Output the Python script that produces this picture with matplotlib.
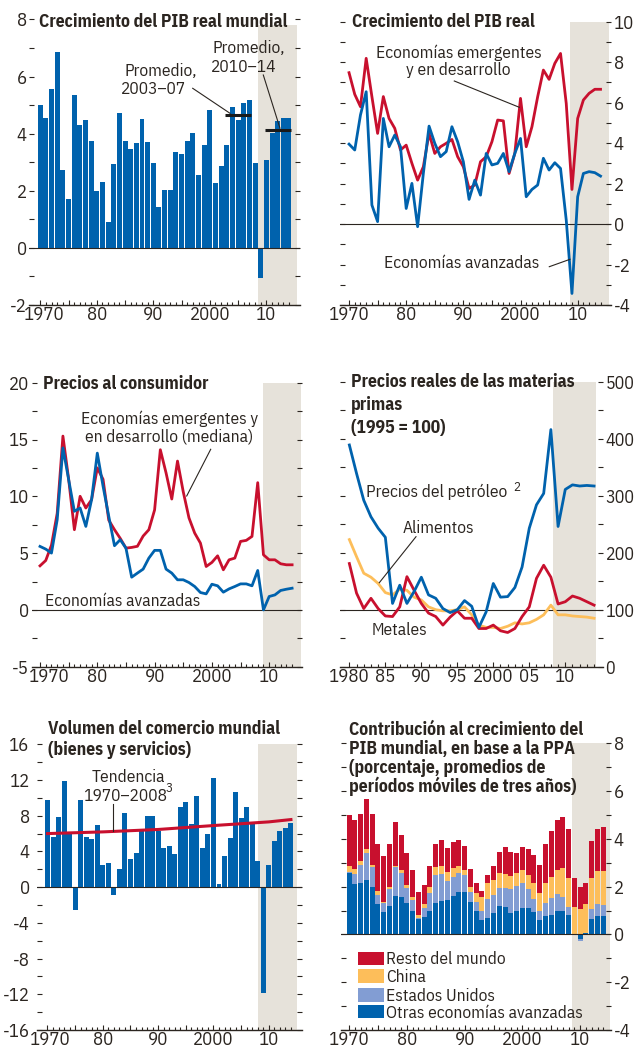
import numpy as np
import matplotlib.pyplot as plt
from matplotlib.lines import Line2D
from matplotlib.patches import Rectangle
from matplotlib.ticker import FixedLocator, FixedFormatter, MultipleLocator
from matplotlib.transforms import ScaledTranslation

plt.rcParams['font.family'] = ['IBM Plex Sans Condensed', 'DejaVu Sans']
plt.rcParams['axes.unicode_minus'] = False

W, H = 636, 1049
INK = '#2B2520'
BLUE = '#0062AD'
RED = '#C8102E'
ORANGE = '#FDBE5A'
LBLUE = '#829DD3'
SHADE = '#E6E2DA'

anios = np.arange(1970, 2015)
anios_mp = np.arange(1980, 2015)

pib_mundial = [5.0, 4.55, 5.56, 6.85, 2.73, 1.72, 5.37, 4.29, 4.48, 3.73,
               1.99, 2.30, 0.92, 2.94, 4.71, 3.73, 3.47, 3.66, 4.51, 3.71,
               2.97, 1.44, 2.03, 2.03, 3.36, 3.28, 3.73, 4.02, 2.56, 3.59,
               4.83, 2.28, 2.87, 3.59, 4.93, 4.48, 5.07, 5.17, 2.97, -1.05,
               3.08, 4.01, 4.44, 4.55, 4.55]

pib_emergentes = [7.48, 6.41, 5.8, 8.19, 6.3, 4.48, 6.3, 5.22, 4.73, 3.66,
                  3.9, 3.0, 2.17, 2.83, 4.48, 3.49, 3.82, 3.99, 4.18, 3.33,
                  2.83, 1.76, 1.93, 3.08, 3.33, 4.07, 5.14, 5.1, 2.5, 3.49,
                  6.21, 3.82, 4.81, 6.29, 7.61, 7.15, 7.94, 8.43, 5.96, 1.71,
                  5.22, 6.13, 6.46, 6.66, 6.66]
pib_avanzadas = [3.95, 3.66, 5.39, 6.54, 0.94, 0.12, 5.22, 3.82, 4.4, 3.82,
                 0.77, 2.01, -0.13, 2.5, 4.84, 3.99, 3.33, 3.58, 4.81, 4.07,
                 3.08, 1.22, 2.17, 1.43, 3.49, 2.92, 3.0, 3.49, 2.59, 3.49,
                 4.23, 1.35, 1.71, 1.93, 3.25, 2.67, 3.03, 2.75, 0.2, -3.43,
                 1.35, 2.5, 2.59, 2.54, 2.37]

ipc_emergentes = [3.88, 4.35, 5.7, 8.5, 15.3, 11.5, 7.06, 10.0, 8.97, 9.7,
                  12.5, 11.5, 7.9, 7.06, 6.3, 5.44, 5.5, 5.6, 6.5, 7.06,
                  8.8, 14.1, 12.06, 9.76, 13.1, 10.4, 8.1, 6.76, 5.88, 3.82,
                  4.18, 4.76, 3.53, 4.41, 4.56, 6.03, 6.12, 6.47, 11.2, 4.85,
                  4.41, 4.41, 4.06, 3.97, 3.97]
ipc_avanzadas = [5.59, 5.35, 5.0, 7.94, 14.26, 11.47, 8.68, 8.97, 7.35, 9.7,
                 13.8, 10.9, 8.24, 5.65, 6.18, 5.44, 2.88, 3.24, 3.59, 4.56,
                 5.24, 5.24, 3.59, 3.24, 2.65, 2.65, 2.41, 2.06, 1.53, 1.41,
                 2.26, 2.12, 1.56, 1.85, 2.06, 2.29, 2.29, 2.12, 3.47, 0.0,
                 1.18, 1.32, 1.71, 1.82, 1.91]

petroleo = [389, 339, 292, 263, 243, 227, 111, 143, 111, 132,
            157, 126, 120, 102, 95, 100, 116, 106, 69, 96,
            146, 122, 123, 139, 175, 243, 284, 304, 416, 246,
            311, 319, 317, 318, 317]
alimentos = [223, 193, 164, 157, 146, 130, 126, 136, 134, 122,
             117, 105, 100, 98, 98, 100, 105, 91, 73, 69,
             69, 67, 71, 77, 75, 77, 83, 91, 108, 91,
             91, 89, 88, 87, 85]
metales = [181, 129, 102, 120, 102, 89, 88, 105, 158, 134,
           111, 94, 88, 73, 87, 98, 85, 85, 67, 67,
           73, 63, 60, 67, 88, 105, 155, 178, 157, 110,
           114, 124, 120, 114, 108]

comercio = [9.81, 5.6, 7.84, 11.87, 5.97, -2.57, 9.81, 5.6, 5.34, 7.01,
            2.43, 2.65, -0.93, 1.98, 8.36, 3.1, 3.88, 6.27, 8.02, 8.02,
            6.34, 4.44, 4.66, 3.66, 9.03, 9.59, 7.09, 10.26, 4.44, 6.0,
            12.28, 0.3, 3.54, 5.45, 10.7, 7.8, 9.03, 7.35, 2.98, -11.87,
            2.43, 5.22, 6.34, 6.68, 7.24]
tendencia_anios = [1970, 1980, 1990, 2000, 2010, 2014]
tendencia = [6.0, 6.19, 6.46, 6.9, 7.31, 7.57]

otras_avanzadas = [2.57, 2.10, 2.14, 2.27, 1.97, 1.26, 0.92, 1.17, 1.59, 1.55,
                   1.30, 1.00, 0.63, 0.71, 0.97, 1.30, 1.38, 1.43, 1.59, 1.76,
                   1.76, 1.34, 1.00, 0.59, 0.67, 0.88, 1.17, 1.13, 0.88, 0.97,
                   1.09, 1.09, 0.92, 0.59, 0.76, 0.80, 1.00, 1.00, 0.80, 0.00,
                   -0.21, 0.06, 0.63, 0.76, 0.76]
estados_unidos = [0.06, 0.42, 0.76, 1.13, 0.84, 0.38, 0.38, 0.72, 1.22, 1.01,
                  0.63, 0.43, 0.05, 0.38, 0.75, 1.18, 1.14, 0.79, 0.80, 0.80,
                  0.72, 0.42, 0.34, 0.41, 0.80, 0.76, 0.76, 0.80, 1.01, 1.04,
                  1.05, 0.80, 0.55, 0.38, 0.54, 0.71, 0.68, 0.55, 0.33, 0.00,
                  -0.07, 0.02, 0.42, 0.50, 0.46]
china = [0.22, 0.21, 0.16, 0.17, 0.09, 0.16, 0.04, 0.08, 0.04, 0.13,
         0.13, 0.12, 0.12, 0.17, 0.25, 0.33, 0.33, 0.38, 0.38, 0.29,
         0.21, 0.21, 0.38, 0.55, 0.67, 0.63, 0.63, 0.59, 0.54, 0.55,
         0.55, 0.59, 0.67, 0.75, 0.84, 0.88, 1.01, 1.22, 1.22, 1.13,
         1.05, 1.18, 1.30, 1.38, 1.42]
resto_mundo = [2.14, 2.05, 1.97, 2.09, 2.13, 1.98, 1.93, 1.81, 1.85, 1.46,
               1.34, 1.14, 0.96, 0.80, 0.88, 0.97, 1.09, 1.01, 1.09, 1.09,
               1.00, 0.76, 0.42, 0.25, 0.34, 0.58, 0.88, 1.13, 1.01, 0.84,
               0.96, 1.09, 1.17, 1.18, 1.64, 1.93, 2.09, 2.14, 2.06, 1.22,
               0.92, 0.88, 1.55, 1.77, 1.85]

fig = plt.figure(figsize=(W / 100, H / 100), dpi=100)
TSIZE = 12.7


def panel(x0, y0, x1, y1):
    # posiciones en pixeles de la figura, desde arriba
    return fig.add_axes([x0 / W, 1 - y1 / H, (x1 - x0) / W, (y1 - y0) / H])


def txt(x, y, s, size=12.5, **kw):
    kw.setdefault('color', INK)
    kw.setdefault('va', 'baseline')
    fig.text(x / W, 1 - y / H, s, size=size, **kw)


def leader(x0, y0, x1, y1):
    fig.add_artist(Line2D([x0 / W, x1 / W], [1 - y0 / H, 1 - y1 / H],
                          lw=0.8, color=INK))


def lab(y, first, step):
    if (y - first) % step:
        return ''
    if y == first or y == 2000:
        return str(y)
    return '%02d' % (y % 100)


def style(ax, xlim, ylim, first, step, major_y, minor_y, side, ypad=2,
          ysize=13.5, nudge=0):
    ax.set_xlim(*xlim)
    ax.set_ylim(*ylim)
    ax.set_facecolor('none')
    for s in ('top', 'left', 'right'):
        ax.spines[s].set_visible(False)
    ax.spines['bottom'].set_color(INK)
    ax.spines['bottom'].set_linewidth(1)
    majors = list(range(first, 2015, 5))
    ax.xaxis.set_major_locator(FixedLocator(majors))
    ax.xaxis.set_major_formatter(FixedFormatter([lab(y, first, step) for y in majors]))
    ax.xaxis.set_minor_locator(FixedLocator(list(range(first, 2015))))
    ax.tick_params(axis='x', which='major', direction='in', length=3.5, width=0.8,
                   color=INK, labelcolor=INK, labelsize=13.5, pad=1)
    ax.tick_params(axis='x', which='minor', direction='in', length=2, width=0.8, color=INK)
    ax.yaxis.set_major_locator(MultipleLocator(major_y))
    ax.yaxis.set_minor_locator(MultipleLocator(minor_y))
    ax.yaxis.set_ticks_position('both')
    ax.tick_params(axis='y', which='both', direction='in', length=3.6, width=0.8,
                   color=INK, labelcolor=INK, labelsize=ysize, pad=ypad,
                   labelleft=(side == 'left'), labelright=(side == 'right'))
    if nudge:
        # el primer año se corre un poco a la derecha, como en el original
        t0 = ax.xaxis.get_major_ticks()[0].label1
        t0.set_transform(t0.get_transform() + ScaledTranslation(nudge / 100, 0, fig.dpi_scale_trans))


# 1. Crecimiento del PIB real mundial
ax1 = panel(29.5, 19.5, 300, 305)
style(ax1, (1968.1, 2015.95), (-2, 8), 1970, 10, 2, 1, 'left', nudge=4)
ax1.axvspan(2008.5, 2015.5, ymax=0.98, color=SHADE, lw=0, zorder=0)
ax1.bar(anios, pib_mundial, width=0.88, color=BLUE, lw=0, zorder=2)
ax1.axhline(0, color=INK, lw=0.8, zorder=3)
for a, b in [(2003, 2007), (2010, 2014)]:
    sel = (anios >= a) & (anios <= b)
    media = np.mean(np.array(pib_mundial)[sel])
    ax1.plot([a - 0.3, b + 0.3], [media, media], color='#1a1a1a', lw=2.2, zorder=4,
             solid_capstyle='butt')
txt(39, 27.3, 'Crecimiento del PIB real mundial', size=TSIZE, weight='bold')
txt(161, 76, 'Promedio,', ha='center')
txt(153, 94.3, '2003–07', ha='center')
leader(192.7, 88.3, 230, 113.3)
txt(249, 53.3, 'Promedio,', ha='center')
txt(244, 71.7, '2010–14', ha='center')
leader(263.3, 75, 280, 128.3)

# 2. Crecimiento del PIB real
ax2 = panel(340, 21.7, 611, 305)
style(ax2, (1968.42, 2015.83), (-4, 10), 1970, 10, 2, 1, 'right')
ax2.axvspan(2008.65, 2015.4, color=SHADE, lw=0, zorder=0)
ax2.axhline(0, color=INK, lw=0.8, zorder=1)
ax2.plot(anios, pib_emergentes, color=RED, lw=2, zorder=3)
ax2.plot(anios, pib_avanzadas, color=BLUE, lw=2, zorder=3)
txt(352, 27.3, 'Crecimiento del PIB real', size=TSIZE, weight='bold')
txt(459, 58.3, 'Economías emergentes', ha='center')
txt(458, 75, 'y en desarrollo', ha='center')
leader(454.3, 81, 519.3, 107.3)
txt(462, 268.3, 'Economías avanzadas', ha='center')
leader(549.3, 266.7, 570, 259.3)

# 3. Precios al consumidor
ax3 = panel(31.7, 382.7, 302.3, 666.7)
style(ax3, (1968.55, 2015.78), (-5, 20), 1970, 10, 5, 2.5, 'left', nudge=9)
ax3.axvspan(2009.0, 2015.55, color=SHADE, lw=0, zorder=0)
ax3.axhline(0, color=INK, lw=0.8, zorder=1)
ax3.plot(anios, ipc_emergentes, color=RED, lw=2, zorder=3)
ax3.plot(anios, ipc_avanzadas, color=BLUE, lw=2, zorder=3)
txt(42.7, 389.3, 'Precios al consumidor', size=TSIZE, weight='bold')
txt(169.5, 424.3, 'Economías emergentes y', ha='center')
txt(169.2, 441.7, 'en desarrollo (mediana)', ha='center')
leader(210.7, 449.3, 186.7, 496)
txt(122.7, 605.7, 'Economías avanzadas', ha='center')

# 4. Precios reales de las materias primas
ax4 = panel(340, 381.7, 602.7, 666.7)
style(ax4, (1978.7, 2015.2), (0, 500), 1980, 5, 100, 50, 'right', ypad=2, ysize=13)
ax4.axvspan(2008.3, 2014.26, color=SHADE, lw=0, zorder=0)
ax4.axhline(100, color=INK, lw=0.8, zorder=1)
ax4.plot(anios_mp, alimentos, color=ORANGE, lw=2, zorder=3)
ax4.plot(anios_mp, metales, color=RED, lw=2, zorder=3)
ax4.plot(anios_mp, petroleo, color=BLUE, lw=2, zorder=3)
for i, linea in enumerate(['Precios reales de las materias', 'primas', '(1995 = 100)']):
    txt(351, 387.3 + 22.7 * i, linea, size=TSIZE, weight='bold')
txt(366, 496.7, 'Precios del petróleo', ha='left')
txt(513, 490.7, '2', size=9.5, ha='left')
txt(438.7, 533.3, 'Alimentos', ha='center')
leader(416, 536.7, 379.3, 582.7)
txt(399.3, 635, 'Metales', ha='center')

# 5. Volumen del comercio mundial
ax5 = panel(36.7, 744.3, 302, 1030)
style(ax5, (1968.05, 2016.0), (-16, 16), 1970, 10, 4, 2, 'left', ypad=5, nudge=3)
ax5.axvspan(2008.1, 2015.05, color=SHADE, lw=0, zorder=0)
ax5.bar(anios, comercio, width=0.9, color=BLUE, lw=0, zorder=2)
ax5.axhline(0, color=INK, lw=0.8, zorder=3)
ax5.plot(tendencia_anios, tendencia, color=RED, lw=2.2, zorder=4)
txt(48.3, 734, 'Volumen del comercio mundial', size=TSIZE, weight='bold')
txt(48.3, 755, '(bienes y servicios)', size=TSIZE, weight='bold')
txt(128.3, 781.7, 'Tendencia', ha='center')
txt(125, 800.7, '1970–2008', ha='center')
txt(165.5, 792, '3', size=9.5, ha='left')
leader(112.7, 804, 112.7, 830.7)

# 6. Contribución al crecimiento del PIB mundial
ax6 = panel(341, 743.3, 611, 1030)
style(ax6, (1968.6, 2015.33), (-4, 8), 1970, 10, 2, 1, 'right')
ax6.axvspan(2008.6, 2015.2, color=SHADE, lw=0, zorder=0)
pos = np.zeros(len(anios))
neg = np.zeros(len(anios))
for serie, col in [(otras_avanzadas, BLUE), (estados_unidos, LBLUE),
                   (china, ORANGE), (resto_mundo, RED)]:
    v = np.array(serie)
    ax6.bar(anios, v, bottom=np.where(v >= 0, pos, neg), width=0.86,
            color=col, lw=0, zorder=2)
    pos += np.clip(v, 0, None)
    neg += np.clip(v, None, 0)
ax6.axhline(0, color=INK, lw=0.8, zorder=3)
for i, linea in enumerate(['Contribución al crecimiento del',
                           'PIB mundial, en base a la PPA',
                           '(porcentaje, promedios de',
                           'períodos móviles de tres años)']):
    txt(349.3, 735 + 19.1 * i, linea, size=TSIZE, weight='bold')
leyenda = [('Resto del mundo', RED, 951.7), ('China', ORANGE, 969.3),
           ('Estados Unidos', LBLUE, 988.3), ('Otras economías avanzadas', BLUE, 1005)]
for nombre, col, ytop in leyenda:
    fig.add_artist(Rectangle((357.7 / W, 1 - (ytop + 13.3) / H), 26.6 / W, 13.3 / H,
                             color=col, lw=0))
    txt(386, ytop + 12.5, nombre, ha='left')

fig.savefig('out.png', dpi=100)
